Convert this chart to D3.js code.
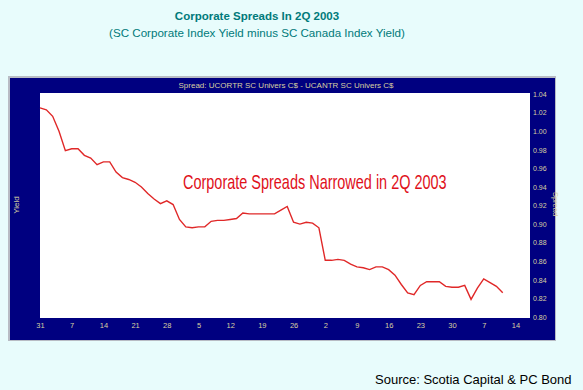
<!DOCTYPE html>
<html><head><meta charset="utf-8">
<script src="https://cdn.jsdelivr.net/npm/d3@7"></script>
<style>html,body{margin:0;padding:0;background:#e8fcfc;}svg{display:block;}</style>
</head><body><svg id="c" width="583" height="390"></svg>
<script>
const tickLabels = ["31","7","14","21","28","5","12","19","26","2","9","16","23","30","7","14"];
const yTicks = [0.80,0.82,0.84,0.86,0.88,0.90,0.92,0.94,0.96,0.98,1.00,1.02,1.04];
const spread = [1.025,1.023,1.016,1.000,0.979,0.981,0.981,0.974,0.971,0.964,
  0.967,0.967,0.956,0.950,0.948,0.945,0.940,0.933,0.927,0.922,
  0.925,0.921,0.905,0.897,0.896,0.897,0.897,0.903,0.904,0.904,
  0.905,0.906,0.912,0.911,0.911,0.911,0.911,0.911,0.915,0.919,
  0.902,0.900,0.902,0.901,0.896,0.861,0.861,0.862,0.861,0.857,
  0.854,0.853,0.851,0.854,0.854,0.851,0.845,0.835,0.826,0.824,
  0.834,0.838,0.838,0.838,0.833,0.832,0.832,0.834,0.819,0.831,
  0.841,0.837,0.833,0.826];

const svg = d3.select("#c");
svg.append("rect").attr("width",583).attr("height",390).attr("fill","#e8fcfc");

// titles
svg.append("text").attr("x",257).attr("y",20).attr("text-anchor","middle")
  .attr("font-family","Liberation Sans, Arial, sans-serif").attr("font-size",11.5).attr("font-weight","bold")
  .attr("fill","#007a7a").text("Corporate Spreads In 2Q 2003");
svg.append("text").attr("x",257).attr("y",37).attr("text-anchor","middle")
  .attr("font-family","Liberation Sans, Arial, sans-serif").attr("font-size",11.6)
  .attr("fill","#007a7a").text("(SC Corporate Index Yield minus SC Canada Index Yield)");

// frame
svg.append("rect").attr("x",8).attr("y",76).attr("width",548).attr("height",265).attr("fill","#b8bcc4");
svg.append("rect").attr("x",10).attr("y",78).attr("width",545).attr("height",262).attr("fill","#000080");

const L=40, R=530, T=93, B=318;
svg.append("rect").attr("x",L).attr("y",T).attr("width",R-L).attr("height",B-T).attr("fill","#ffffff");

const x = d3.scaleLinear().domain([0,77.3]).range([L,R]);
const y = d3.scaleLinear().domain([0.80,1.04]).range([317,94]);

const lab = "#d8d0a0";
svg.append("text").attr("x",286).attr("y",88).attr("text-anchor","middle")
  .attr("font-family","Liberation Sans, Arial, sans-serif").attr("font-size",8)
  .attr("fill",lab).text("Spread: UCORTR SC Univers C$  -  UCANTR SC Univers C$");

// x axis labels
const xAxis = d3.axisBottom(x).tickValues(tickLabels.map((d,i)=>i*5))
  .tickFormat((d,i)=>tickLabels[i]).tickSize(0).tickPadding(5);
const gx = svg.append("g").attr("transform",`translate(0,${B})`).call(xAxis);
gx.select(".domain").remove();
gx.selectAll("text").attr("fill",lab).attr("font-size",7.5).attr("font-family","Liberation Sans, Arial, sans-serif");

// y axis labels right
const yAxis = d3.axisRight(y).tickValues(yTicks).tickFormat(d3.format(".2f")).tickSize(0).tickPadding(3);
const gy = svg.append("g").attr("transform",`translate(${R},0)`).call(yAxis);
gy.select(".domain").remove();
gy.selectAll("text").attr("fill",lab).attr("font-size",7).attr("font-family","Liberation Sans, Arial, sans-serif");

// axis titles
svg.append("text").attr("transform","translate(19,205) rotate(-90)").attr("text-anchor","middle")
  .attr("font-family","Liberation Sans, Arial, sans-serif").attr("font-size",8).attr("fill",lab).text("Yield");
svg.append("text").attr("transform","translate(552.5,204) rotate(90)").attr("text-anchor","middle")
  .attr("font-family","Liberation Sans, Arial, sans-serif").attr("font-size",7.5).attr("fill",lab).text("Spread");

// line
svg.append("path").datum(spread)
  .attr("d", d3.line().x((d,i)=>x(i)).y(d=>y(d)))
  .attr("fill","none").attr("stroke","#e02828").attr("stroke-width",1.4);

// annotation (condensed horizontally by scaling)
const ann = svg.append("text").attr("x",0).attr("y",0)
  .attr("font-family","Liberation Sans Narrow, Liberation Sans, Arial, sans-serif").attr("font-size",20)
  .attr("fill","#e0101a").text("Corporate Spreads Narrowed in 2Q 2003");
const natW = ann.node().getComputedTextLength();
ann.attr("transform",`translate(183,189) scale(${264/natW},1)`);

// source
svg.append("text").attr("x",375).attr("y",384)
  .attr("font-family","Liberation Sans, Arial, sans-serif").attr("font-size",13)
  .attr("fill","#000").text("Source: Scotia Capital & PC Bond");
</script></body></html>
